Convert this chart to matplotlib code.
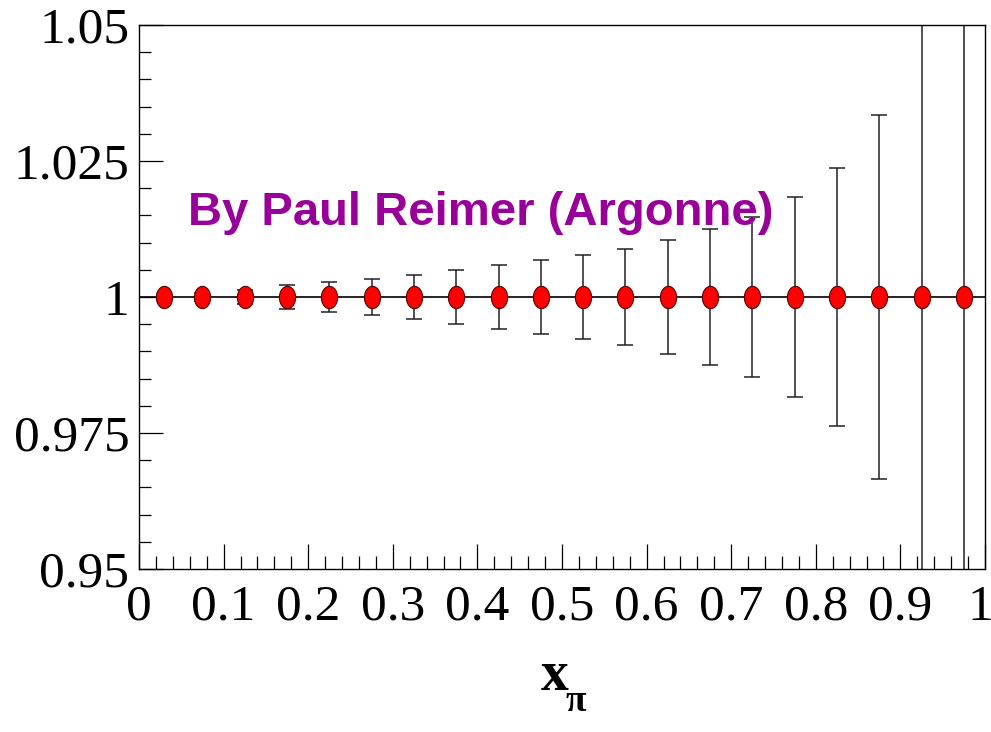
import numpy as np
import matplotlib
matplotlib.use("Agg")
import matplotlib.pyplot as plt
from matplotlib.path import Path
from matplotlib.transforms import ScaledTranslation
from matplotlib.ticker import MultipleLocator, FixedFormatter, FixedLocator

# Ratio points in bins of x_pi with their statistical uncertainties
x_pi = [0.03, 0.075, 0.125, 0.175, 0.225, 0.275, 0.325, 0.375, 0.425, 0.475,
        0.525, 0.575, 0.625, 0.675, 0.725, 0.775, 0.825, 0.875, 0.925, 0.975]
ratio = [1.0] * 20
err = [0.0005, 0.0008, 0.0012, 0.0022, 0.0028, 0.0034, 0.0041, 0.0049, 0.0058, 0.0068,
       0.0078, 0.0089, 0.0105, 0.0125, 0.0147, 0.0183, 0.0238, 0.0335, 0.08, 0.13]

x_ticks = [0, 0.1, 0.2, 0.3, 0.4, 0.5, 0.6, 0.7, 0.8, 0.9, 1]
x_labels = ["0", "0.1", "0.2", "0.3", "0.4", "0.5", "0.6", "0.7", "0.8", "0.9", "1"]
y_ticks = [0.95, 0.975, 1.0, 1.025, 1.05]
y_labels = ["0.95", "0.975", "1", "1.025", "1.05"]

fig = plt.figure(figsize=(9.91, 7.32), dpi=100)
ax = fig.add_axes([139 / 991, 1 - 569 / 732, 846 / 991, 544 / 732])

# slightly narrow elliptical marker
t = np.linspace(0, 2 * np.pi, 60)
ellipse = Path(np.column_stack([0.73 * np.cos(t), np.sin(t)]), closed=True)

ax.axhline(1.0, color="black", lw=1.2, zorder=1)
ax.errorbar(x_pi, ratio, yerr=err, fmt="none", ecolor="#222222",
            elinewidth=1.1, capsize=6, capthick=1.1, zorder=2)
ax.plot(x_pi, ratio, linestyle="none", marker=ellipse, markersize=16,
        markerfacecolor="#ff0000", markeredgecolor="#5a0000",
        markeredgewidth=0.8, zorder=3)

ax.set_xlim(0, 1)
ax.set_ylim(0.95, 1.05)

serif = "Liberation Serif"
ax.xaxis.set_major_locator(FixedLocator(x_ticks))
ax.xaxis.set_major_formatter(FixedFormatter(x_labels))
ax.xaxis.set_minor_locator(MultipleLocator(0.02))
ax.yaxis.set_major_locator(FixedLocator(y_ticks))
ax.yaxis.set_major_formatter(FixedFormatter(y_labels))
ax.yaxis.set_minor_locator(MultipleLocator(0.005))

ax.tick_params(which="both", direction="in", top=False, right=False, color="black")
ax.tick_params(axis="x", which="major", length=18, width=0.9, pad=11)
ax.tick_params(axis="x", which="minor", length=9.5, width=0.9)
ax.tick_params(axis="y", which="major", length=17, width=0.9, pad=7)
ax.tick_params(axis="y", which="minor", length=8.5, width=0.9)
for lab in ax.get_xticklabels() + ax.get_yticklabels():
    lab.set_fontfamily(serif)
    lab.set_fontsize(37)

# keep the last x label inside the figure edge
last = ax.get_xticklabels()[-1]
last.set_transform(last.get_transform() + ScaledTranslation(-0.05, 0, fig.dpi_scale_trans))

for sp in ax.spines.values():
    sp.set_linewidth(1.0)
    sp.set_color("black")

ax.text(0.058, 0.632, "By Paul Reimer (Argonne)", transform=ax.transAxes,
        fontsize=34, fontweight="bold", color="#990099",
        family="Liberation Sans", ha="left", va="baseline")

# axis title: x with subscript pi
fig.text(555 / 991, 1 - 690 / 732, "x", fontsize=40, fontweight="bold",
         family=serif, ha="center", va="baseline")
fig.text(576 / 991, 1 - 711 / 732, "π", fontsize=27, fontweight="bold",
         family=serif, ha="center", va="baseline")

fig.savefig("out.png", dpi=100)
